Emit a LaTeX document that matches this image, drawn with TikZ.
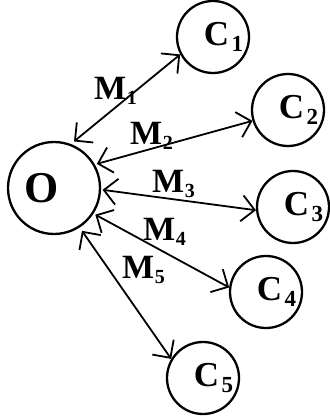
\documentclass[tikz,border=0pt]{standalone}
\usepackage{fontspec}
\setmainfont{Liberation Serif}
\usetikzlibrary{arrows.meta}
% lowered index digits for the client circles and the message labels
\newcommand\clientidx[1]{\rlap{\kern2.5pt\raisebox{-6.5pt}{\fontsize{23}{23}\selectfont #1}}}
\newcommand\msgidx[1]{\kern0.5pt\raisebox{-5pt}{\fontsize{20}{20}\selectfont #1}}
\begin{document}
\begin{tikzpicture}[x=1pt,y=-1pt,
  hub/.style={circle,draw,line width=2.3pt,minimum size=92pt,inner sep=0pt},
  hubtext/.style={inner sep=0pt,font=\fontsize{44}{44}\selectfont\bfseries},
  client/.style={circle,draw,line width=2.3pt,minimum size=72pt,inner sep=0pt,
    font=\fontsize{35}{35}\selectfont\bfseries,
    execute at begin node={\hspace*{7pt}}},
  barb/.tip={Straight Barb[length=13pt,width=26pt]},
  link/.style={line width=1.8pt,barb-barb},
  msg/.style={anchor=base west,inner sep=0pt,font=\fontsize{34}{34}\selectfont\bfseries}]
\useasboundingbox (0,0) rectangle (329,419);

% central node
\node[hub] (O) at (54,188) {};
\node[hubtext] (Olabel) at (42,188) {O};

% clients
\node[client] (C1) at (213,37)  {C\clientidx{1}};
\node[client] (C2) at (288,110) {C\clientidx{2}};
\node[client] (C3) at (293,207) {C\clientidx{3}};
\node[client] (C4) at (266,292) {C\clientidx{4}};
\node[client] (C5) at (203,378) {C\clientidx{5}};

% two-way message links
\draw[link,shorten <=4pt]   (O.69)  -- (C1.208);
\draw[link,shorten <=2pt]   (O.30)  -- (C2.197);
\draw[link,shorten <=1.5pt] (O.-2)  -- (C3.185);
\draw[link,shorten <=2pt]   (O.-33) -- (C4.173);
\draw[link,shorten <=4pt]   (O.-57) -- (C5.149);

% message labels
\node[msg] (M1) at (94,100)  {M\msgidx{1}};
\node[msg] (M2) at (130,145) {M\msgidx{2}};
\node[msg] (M3) at (152,193) {M\msgidx{3}};
\node[msg] (M4) at (143,240) {M\msgidx{4}};
\node[msg] (M5) at (122,278) {M\msgidx{5}};
\end{tikzpicture}
\end{document}
